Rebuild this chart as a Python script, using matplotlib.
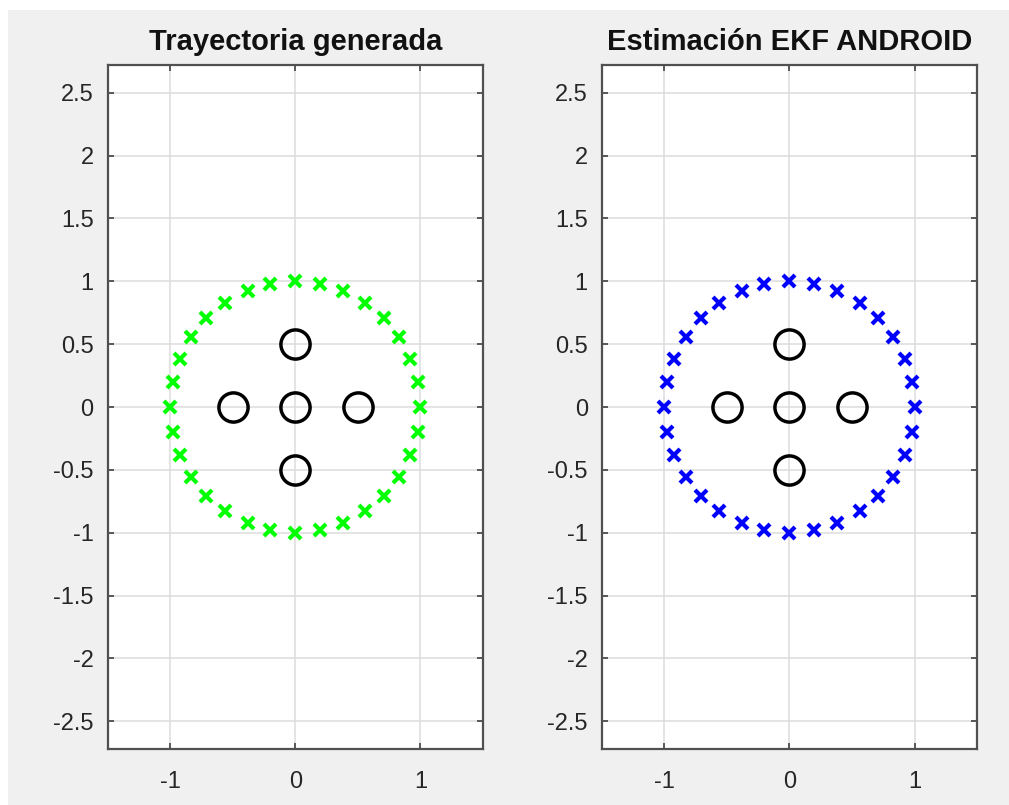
import matplotlib
matplotlib.use("Agg")
import matplotlib.pyplot as plt
from matplotlib.patches import Rectangle

# ---- data ----
traj_x = [1, 0.98, 0.92, 0.83, 0.71, 0.56, 0.38, 0.20, 0, -0.20, -0.38, -0.56, -0.71, -0.83, -0.92, -0.98,
          -1, -0.98, -0.92, -0.83, -0.71, -0.56, -0.38, -0.20, 0, 0.20, 0.38, 0.56, 0.71, 0.83, 0.92, 0.98]
traj_y = [0, 0.20, 0.38, 0.56, 0.71, 0.83, 0.92, 0.98, 1, 0.98, 0.92, 0.83, 0.71, 0.56, 0.38, 0.20,
          0, -0.20, -0.38, -0.56, -0.71, -0.83, -0.92, -0.98, -1, -0.98, -0.92, -0.83, -0.71, -0.56, -0.38, -0.20]
est_x = list(traj_x)
est_y = list(traj_y)
beacon_x = [0, -0.5, 0, 0.5, 0]
beacon_y = [0.5, 0, 0, 0, -0.5]

xticks = [-1, 0, 1]
xticklabels = ['-1', '0', '1']
yticks = [-2.5, -2, -1.5, -1, -0.5, 0, 0.5, 1, 1.5, 2, 2.5]
yticklabels = ['-2.5', '-2', '-1.5', '-1', '-0.5', '0', '0.5', '1', '1.5', '2', '2.5']
titles = ['Trayectoria generada', 'Estimación EKF ANDROID']

# ---- style ----
plt.rcParams['font.family'] = ['Liberation Sans', 'DejaVu Sans']
plt.rcParams['axes.unicode_minus'] = False

W, H = 1009, 805
fig = plt.figure(figsize=(W / 100, H / 100), dpi=100, facecolor='white')
fig.patches.append(Rectangle((8 / W, 0), 1 - 8 / W, 1 - 10 / H, transform=fig.transFigure,
                             facecolor='#f0f0f0', edgecolor='none', zorder=-10))

ax_w = 375.5 / W
ax_h = 684 / H
ax_b = (H - 749) / H
lefts = [107.5 / W, 601.7 / W]

series = [(traj_x, traj_y, '#00ff00'), (est_x, est_y, '#0000ff')]

for i in range(2):
    ax = fig.add_axes([lefts[i], ax_b, ax_w, ax_h])
    ax.set_facecolor('white')
    sx, sy, col = series[i]
    ax.plot(sx, sy, linestyle='none', marker='x', color=col, markersize=8, markeredgewidth=3.0, zorder=3)
    ax.plot(beacon_x, beacon_y, linestyle='none', marker='o', markerfacecolor='none',
            markeredgecolor='black', markersize=21, markeredgewidth=2.5, zorder=4)
    ax.set_xlim(-1.5, 1.5)
    ax.set_ylim(-2.72, 2.72)
    ax.set_xticks(xticks)
    ax.set_xticklabels(xticklabels)
    ax.set_yticks(yticks)
    ax.set_yticklabels(yticklabels)
    ax.grid(True, color='#dcdcdc', linewidth=1.1, zorder=0)
    ax.set_axisbelow(True)
    ax.tick_params(direction='in', length=4, width=1.2, colors='#404040', labelcolor='#262626',
                   labelsize=17, top=True, right=True, pad=10)
    ax.tick_params(axis='x', pad=16)
    for sp in ax.spines.values():
        sp.set_color('#505050')
        sp.set_linewidth(1.6)
    ax.set_title(titles[i], fontsize=21, fontweight='bold', color='#111111', pad=11)

fig.savefig('out.png', dpi=100, facecolor=fig.get_facecolor())
